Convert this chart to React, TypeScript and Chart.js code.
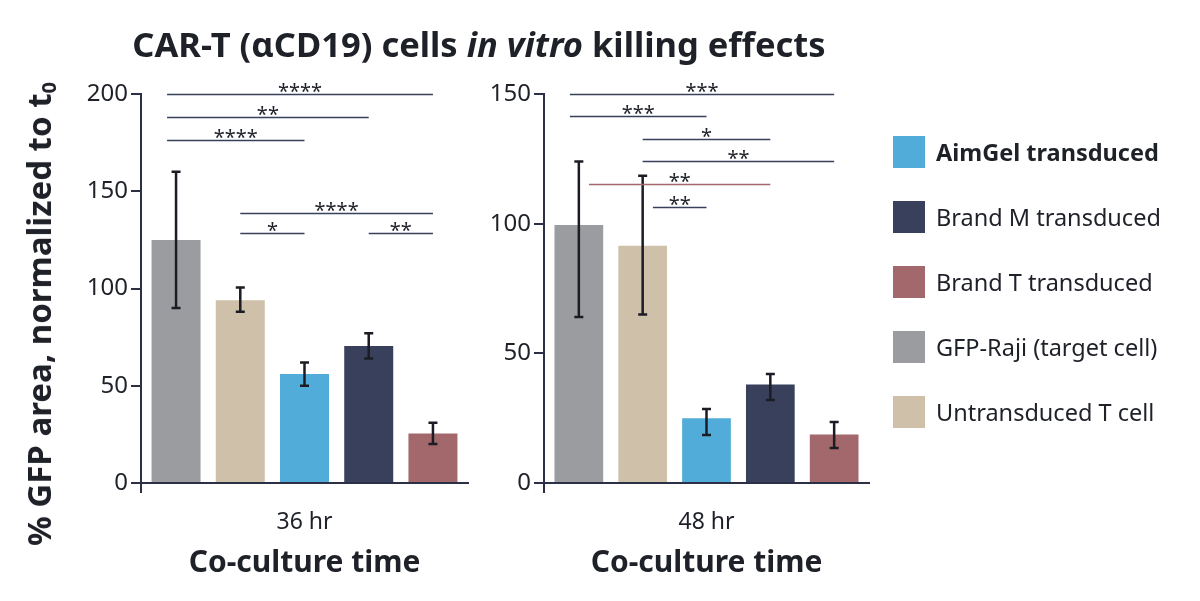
import React, { useEffect, useRef } from "react";
import { Chart, registerables } from "chart.js";

Chart.register(...registerables);

// ---------- data ----------
const groups = [
  "GFP-Raji (target cell)",
  "Untransduced T cell",
  "AimGel transduced",
  "Brand M transduced",
  "Brand T transduced",
];
const groupColors = ["#9b9ca0", "#cfc0aa", "#52acda", "#39405c", "#a3686b"];
const legendOrder = [2, 3, 4, 0, 1];

const time36 = ["36 hr"];
const values36 = [125, 94, 56, 70.5, 25.5];
const errLow36 = [90, 88, 50, 64, 20];
const errHigh36 = [160, 100.5, 62, 77, 31];

const time48 = ["48 hr"];
const values48 = [99.5, 91.5, 25, 38, 18.7];
const errLow48 = [64, 65, 18.5, 32, 13.5];
const errHigh48 = [124, 118.5, 28.5, 42, 23.5];

const yTicks36 = [0, 50, 100, 150, 200];
const yTicks48 = [0, 50, 100, 150];

// significance brackets: from/to in group index units, y in data units
const sigFrom36 = [-0.14, -0.14, -0.14, 1, 1, 3];
const sigTo36 = [4, 3, 2, 4, 2, 4];
const sigY36 = [200, 188.3, 176.5, 139, 128.7, 128.7];
const sigLabel36 = ["****", "**", "****", "****", "*", "**"];
const sigTone36 = [3, 3, 3, 3, 3, 3];

const sigFrom48 = [-0.14, -0.14, 1, 1, 0.16, 1.16];
const sigTo48 = [4, 2, 3, 4, 3, 2];
const sigY48 = [150, 141.5, 132.6, 124.1, 115.2, 106.5];
const sigLabel48 = ["***", "***", "*", "**", "**", "**"];
const sigTone48 = [3, 3, 3, 3, 4, 3];

// ---------- styles ----------
const FONT = "'Noto Sans', sans-serif";
const TEXT = "#1f2129";
const AXIS = "#2b3046";

type Panel = {
  labels: string[];
  values: number[];
  lo: number[];
  hi: number[];
  ticks: number[];
  sigFrom: number[];
  sigTo: number[];
  sigY: number[];
  sigLabel: string[];
  sigTone: number[];
  yWidth: number;
  padRight: number;
};

function makeChart(canvas: HTMLCanvasElement, p: Panel) {
  const yMax = p.ticks[p.ticks.length - 1];
  const errorBars = {
    id: "errorBars",
    afterDatasetsDraw(chart: any) {
      const ctx = chart.ctx;
      const ys = chart.scales.y;
      chart.data.datasets.forEach((_: any, i: number) => {
        const el = chart.getDatasetMeta(i).data[0];
        const x = el.x;
        const yl = ys.getPixelForValue(p.lo[i]);
        const yh = ys.getPixelForValue(p.hi[i]);
        ctx.save();
        ctx.strokeStyle = "#1c1c24";
        ctx.lineWidth = 2.5;
        ctx.beginPath();
        ctx.moveTo(x, yl);
        ctx.lineTo(x, yh);
        ctx.moveTo(x - 4.5, yl);
        ctx.lineTo(x + 4.5, yl);
        ctx.moveTo(x - 4.5, yh);
        ctx.lineTo(x + 4.5, yh);
        ctx.stroke();
        ctx.restore();
      });
    },
  };
  const sig = {
    id: "sig",
    afterDatasetsDraw(chart: any) {
      const ctx = chart.ctx;
      const ys = chart.scales.y;
      const x0 = chart.getDatasetMeta(0).data[0].x;
      const step = chart.getDatasetMeta(1).data[0].x - x0;
      p.sigY.forEach((v, k) => {
        const y = Math.round(ys.getPixelForValue(v)) + 0.5;
        const xa = x0 + p.sigFrom[k] * step;
        const xb = x0 + p.sigTo[k] * step;
        ctx.save();
        ctx.strokeStyle = groupColors[p.sigTone[k]];
        ctx.lineWidth = 1.6;
        ctx.beginPath();
        ctx.moveTo(xa, y);
        ctx.lineTo(xb, y);
        ctx.stroke();
        ctx.fillStyle = TEXT;
        ctx.font = `20px ${FONT}`;
        ctx.textAlign = "center";
        ctx.textBaseline = "alphabetic";
        ctx.fillText(p.sigLabel[k], (xa + xb) / 2, y + 3);
        ctx.restore();
      });
    },
  };
  const axisExt = {
    id: "axisExt",
    afterDraw(chart: any) {
      const { left, bottom } = chart.chartArea;
      const ctx = chart.ctx;
      ctx.save();
      ctx.strokeStyle = AXIS;
      ctx.lineWidth = 2;
      ctx.beginPath();
      ctx.moveTo(left, bottom);
      ctx.lineTo(left, bottom + 10);
      ctx.stroke();
      ctx.restore();
    },
  };

  return new Chart(canvas, {
    type: "bar",
    data: {
      labels: p.labels,
      datasets: groups.map((g, i) => ({
        label: g,
        data: [p.values[i]],
        backgroundColor: groupColors[i],
        borderWidth: 0,
        categoryPercentage: 0.982,
        barPercentage: 0.763,
      })),
    },
    options: {
      animation: false,
      responsive: true,
      maintainAspectRatio: false,
      layout: { padding: { left: 0, top: 94, right: p.padRight, bottom: 0 } },
      plugins: { legend: { display: false }, tooltip: { enabled: false } },
      scales: {
        x: {
          grid: { display: false, drawTicks: false },
          border: { display: true, color: AXIS, width: 2 },
          ticks: { color: TEXT, font: { family: FONT, size: 23 }, padding: 26 },
          title: {
            display: true,
            text: "Co-culture time",
            color: TEXT,
            font: { family: FONT, size: 30, weight: "bold" },
            padding: { top: 0, bottom: 20 },
          },
          afterFit: (s: any) => {
            s.height = 118;
          },
        },
        y: {
          min: 0,
          max: yMax,
          afterBuildTicks: (s: any) => {
            s.ticks = p.ticks.map((v) => ({ value: v }));
          },
          ticks: { color: TEXT, font: { family: FONT, size: 24 }, padding: 3 },
          grid: {
            display: true,
            drawOnChartArea: false,
            drawTicks: true,
            tickLength: 10,
            color: AXIS,
            lineWidth: 2,
          },
          border: { display: true, color: AXIS, width: 2 },
          afterFit: (s: any) => {
            s.width = p.yWidth;
          },
        },
      },
    },
    plugins: [errorBars, sig, axisExt],
  } as any);
}

function PanelChart({ p, left, width }: { p: Panel; left: number; width: number }) {
  const ref = useRef<HTMLCanvasElement>(null);
  useEffect(() => {
    if (!ref.current) return;
    const c = makeChart(ref.current, p);
    return () => c.destroy();
  }, []);
  return (
    <div style={{ position: "absolute", left, top: 0, width, height: 601 }}>
      <canvas ref={ref} />
    </div>
  );
}

const panel36: Panel = {
  labels: time36,
  values: values36,
  lo: errLow36,
  hi: errHigh36,
  ticks: yTicks36,
  sigFrom: sigFrom36,
  sigTo: sigTo36,
  sigY: sigY36,
  sigLabel: sigLabel36,
  sigTone: sigTone36,
  yWidth: 141,
  padRight: 12,
};

const panel48: Panel = {
  labels: time48,
  values: values48,
  lo: errLow48,
  hi: errHigh48,
  ticks: yTicks48,
  sigFrom: sigFrom48,
  sigTo: sigTo48,
  sigY: sigY48,
  sigLabel: sigLabel48,
  sigTone: sigTone48,
  yWidth: 64,
  padRight: 31,
};

export default function App() {
  return (
    <div
      style={{
        position: "absolute",
        left: 0,
        top: 0,
        width: 1200,
        height: 601,
        background: "#fff",
        fontFamily: FONT,
        color: TEXT,
        overflow: "hidden",
      }}
    >
      <PanelChart p={panel36} left={0} width={480} />
      <PanelChart p={panel48} left={480} width={420} />
      <div
        style={{
          position: "absolute",
          left: 0,
          top: 24,
          width: 958,
          textAlign: "center",
          fontSize: 34.5,
          fontWeight: 700,
          lineHeight: "40px",
          whiteSpace: "nowrap",
        }}
      >
        CAR-T (αCD19) cells <i>in vitro</i> killing effects
      </div>
      <div
        style={{
          position: "absolute",
          left: 44,
          top: 314,
          transform: "translate(-50%, -50%) rotate(-90deg)",
          fontSize: 33,
          fontWeight: 700,
          whiteSpace: "nowrap",
          lineHeight: "40px",
        }}
      >
        % GFP area, normalized to t
        <span style={{ fontSize: 20, verticalAlign: -5 }}>0</span>
      </div>
      <div style={{ position: "absolute", left: 893, top: 136 }}>
        {legendOrder.map((gi, k) => (
          <div
            key={gi}
            style={{ display: "flex", alignItems: "center", height: 32, marginBottom: 33 }}
          >
            <div style={{ width: 32, height: 32, background: groupColors[gi] }} />
            <div
              style={{
                marginLeft: 11,
                fontSize: 23.5,
                fontWeight: k === 0 ? 700 : 400,
                whiteSpace: "nowrap",
                lineHeight: "32px",
              }}
            >
              {groups[gi]}
            </div>
          </div>
        ))}
      </div>
    </div>
  );
}
